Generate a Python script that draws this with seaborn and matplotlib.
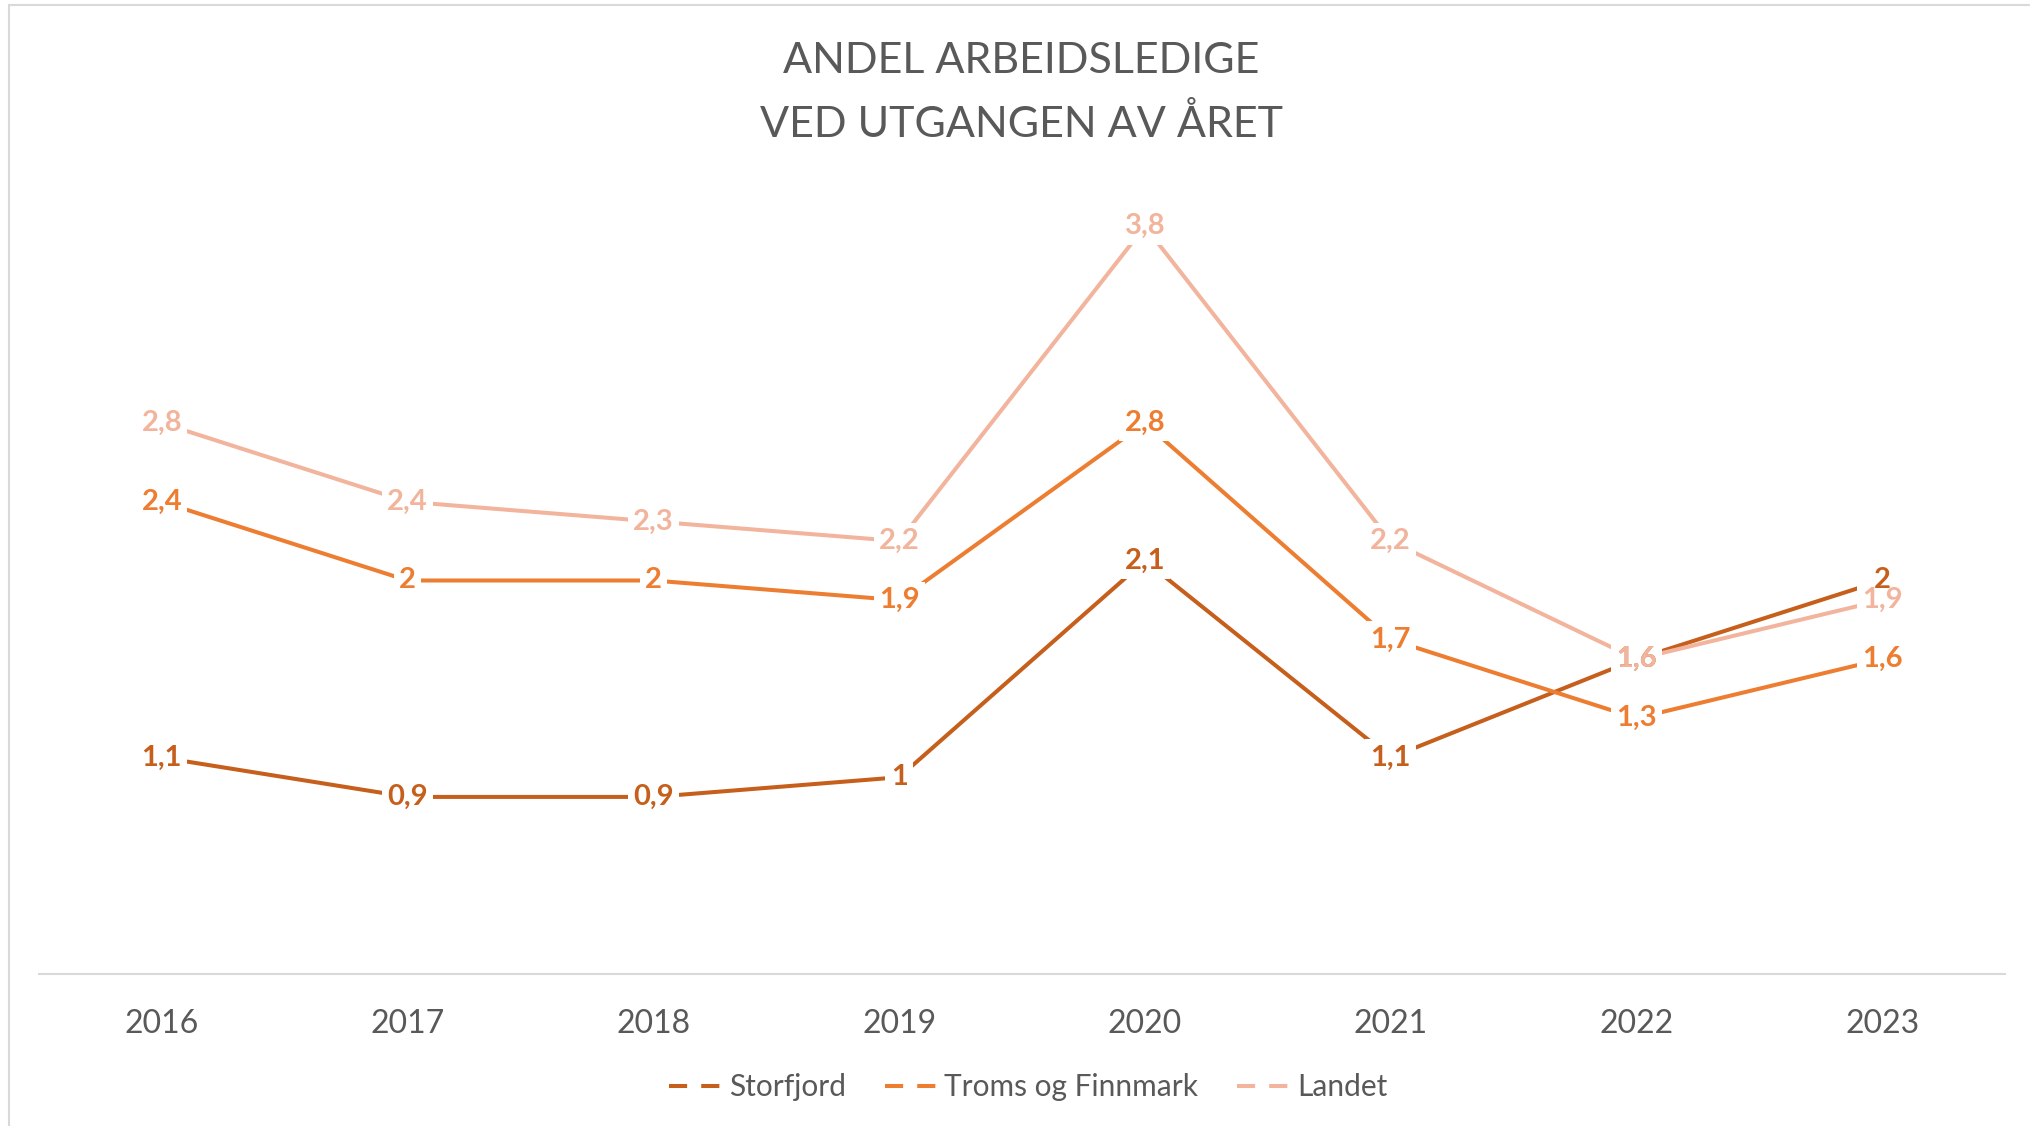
import matplotlib
matplotlib.use("Agg")
import matplotlib.pyplot as plt
from matplotlib.lines import Line2D
import seaborn as sns
import pandas as pd

years = ["2016", "2017", "2018", "2019", "2020", "2021", "2022", "2023"]
storfjord = [1.1, 0.9, 0.9, 1.0, 2.1, 1.1, 1.6, 2.0]
troms_finnmark = [2.4, 2.0, 2.0, 1.9, 2.8, 1.7, 1.3, 1.6]
landet = [2.8, 2.4, 2.3, 2.2, 3.8, 2.2, 1.6, 1.9]
series_names = ["Storfjord", "Troms og Finnmark", "Landet"]
colors = ["#C65F1C", "#ED7D31", "#F2B49C"]
title = "ANDEL ARBEIDSLEDIGE\nVED UTGANGEN AV ÅRET"

sns.set_style("white")
plt.rcParams["font.family"] = ["Lato", "DejaVu Sans"]

rows = []
for name, vals in zip(series_names, [storfjord, troms_finnmark, landet]):
    for i, v in enumerate(vals):
        rows.append({"idx": i, "year": years[i], "value": v, "serie": name})
df = pd.DataFrame(rows)

fig = plt.figure(figsize=(20.3, 11.26), dpi=100)
ax = fig.add_axes([39 / 2030, 1 - 974 / 1126, (2005 - 39) / 2030, (974 - 187) / 1126])

sns.lineplot(data=df, x="idx", y="value", hue="serie", palette=dict(zip(series_names, colors)),
             linewidth=2.9, ax=ax, legend=False, sort=False)

ax.set_xlim(-0.5, len(years) - 0.5)
ax.set_ylim(0, 4)
ax.set_xticks(range(len(years)))
ax.set_xticklabels(years, fontsize=23, color="#595959")
ax.set_yticks([])
ax.tick_params(axis="x", length=0, pad=25)
ax.set_xlabel("")
ax.set_ylabel("")
for s in ["top", "right", "left"]:
    ax.spines[s].set_visible(False)
ax.spines["bottom"].set_color("#D9D9D9")
ax.spines["bottom"].set_linewidth(1.5)


def fmt(v):
    if abs(v - round(v)) < 1e-9:
        return str(int(round(v)))
    return f"{v:.1f}".replace(".", ",")


for k, (name, vals, c) in enumerate(zip(series_names, [storfjord, troms_finnmark, landet], colors)):
    for i, v in enumerate(vals):
        # white knock-out box behind the label (breaks the lines like in Excel)
        ax.text(i, v, fmt(v), ha="center", va="center", fontsize=21, fontweight="bold",
                color="white", alpha=0.0, zorder=5,
                bbox=dict(boxstyle="square,pad=0.18", facecolor="white", edgecolor="none"))
        # the visible label above all boxes
        ax.text(i, v, fmt(v), ha="center", va="center", fontsize=21, fontweight="bold",
                color=c, zorder=6 + k)

fig.text(1021 / 2030, 1 - 93 / 1126, title, ha="center", va="center", fontsize=31,
         color="#595959", linespacing=1.75)

handles = [Line2D([0], [0], color=c, linewidth=2.9, linestyle=(0, (4.5, 3.5))) for c in colors]
fig.legend(handles, series_names, loc="center", bbox_to_anchor=(1028 / 2030, 1 - 1087 / 1126),
           ncol=3, frameon=False, fontsize=21.5, handlelength=1.9, handletextpad=0.1,
           columnspacing=1.3, labelcolor="#595959")

fig.add_artist(Line2D([9 / 2030, 9 / 2030], [0, 1 - 5 / 1126], transform=fig.transFigure,
                      color="#D9D9D9", linewidth=1.5))
fig.add_artist(Line2D([9 / 2030, 1], [1 - 5 / 1126, 1 - 5 / 1126], transform=fig.transFigure,
                      color="#D9D9D9", linewidth=1.5))

fig.savefig("out.png", dpi=100, facecolor="white")
